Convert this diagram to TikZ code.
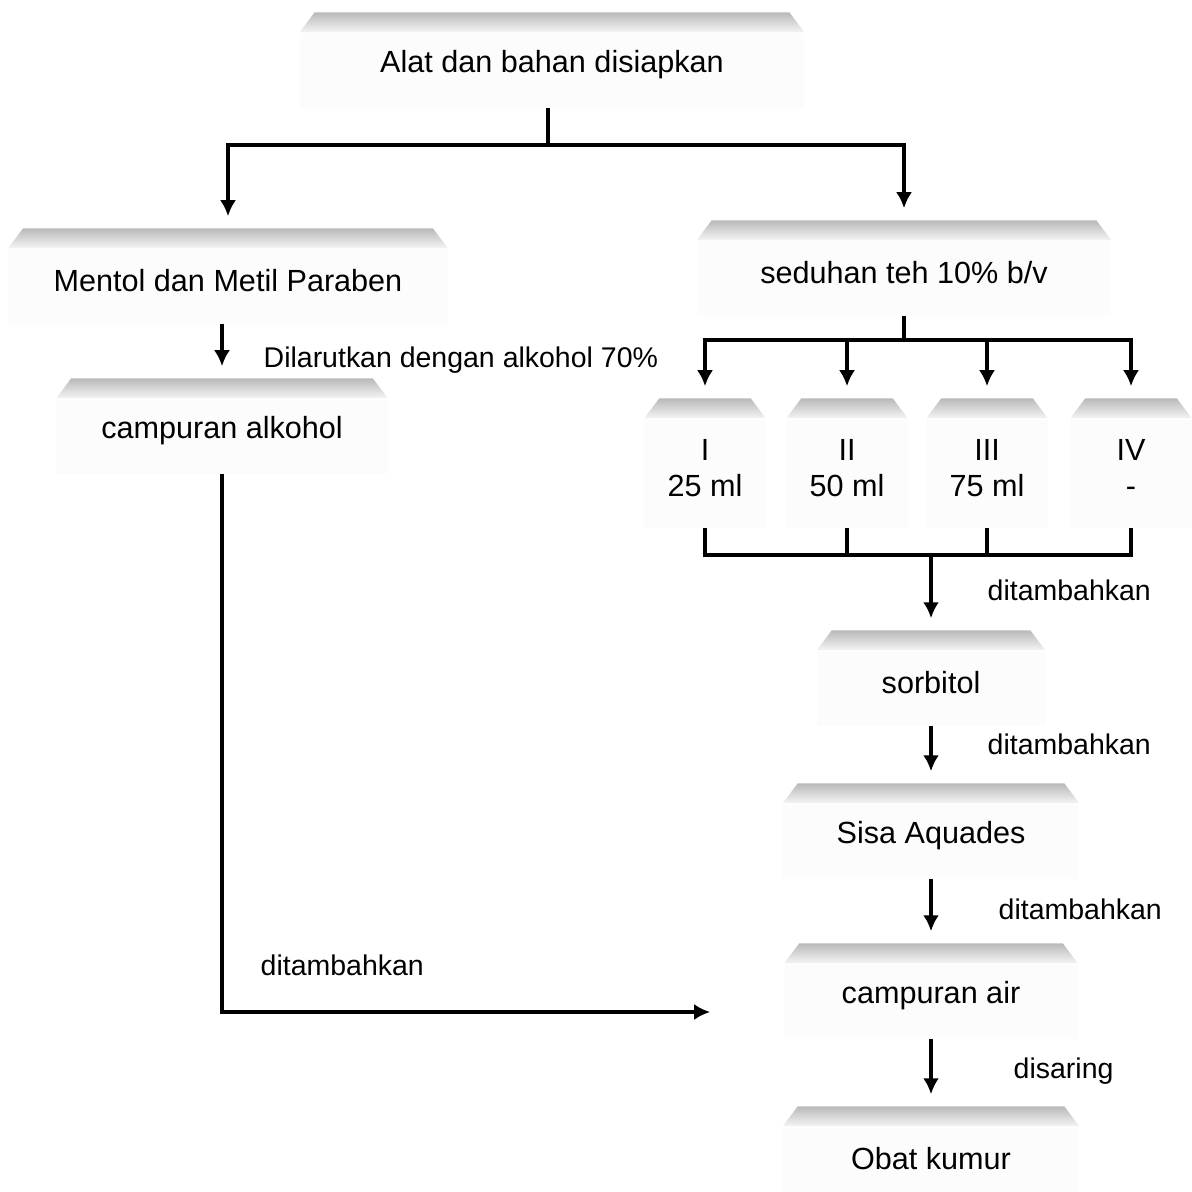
\documentclass[tikz,border=0pt]{standalone}
\usepackage{fontspec}
\setmainfont{Liberation Sans}
\usetikzlibrary{arrows.meta,backgrounds}
\begin{document}
\begin{tikzpicture}[x=0.01cm,y=-0.01cm,
	box/.style={minimum height=0.84cm, inner sep=0pt, align=center, font=\fontsize{8.7}{10.2}\selectfont},
	tube/.style={box, minimum width=1.2cm, minimum height=1.18cm},
	lbl/.style={anchor=west, inner sep=0pt, font=\fontsize{8.1}{10}\selectfont},
	link/.style={line width=1.1pt},
	flow/.style={link, -{Latex[length=1.6mm,width=1.6mm]}, shorten >=0.22cm}]
	\useasboundingbox (0,0) rectangle (1192,1192);
	% boxes
	\node[box, minimum width=5.03cm] (alat) at (552,65) {Alat dan bahan disiapkan};
	\node[box, minimum width=4.38cm] (mentol) at (228,281) {Mentol dan Metil Paraben};
	\node[box, minimum width=3.3cm] (calk) at (222,431) {campuran alkohol};
	\node[box, minimum width=4.13cm] (seduh) at (904,273) {seduhan teh 10\% b/v};
	\node[tube] (t1) at (705,468) {I\\25 ml};
	\node[tube] (t2) at (847,468) {II\\50 ml};
	\node[tube] (t3) at (987,468) {III\\75 ml};
	\node[tube] (t4) at (1131,468) {IV\\-};
	\node[box, minimum width=2.27cm] (sorb) at (931,683) {sorbitol};
	\node[box, minimum width=2.95cm] (aqua) at (931,836) {Sisa Aquades};
	\node[box, minimum width=2.92cm] (cair) at (931,996) {campuran air};
	\node[box, minimum width=2.95cm] (obat) at (931,1159) {Obat kumur};
	% shaded tops
	\begin{scope}[on background layer]
		\foreach \n in {alat,mentol,calk,seduh,t1,t2,t3,t4,sorb,aqua,cair,obat}{
			\fill[gray!2] ([yshift=-0.12cm]\n.north west) rectangle (\n.south east);
			\shade[top color=gray!55, bottom color=gray!8] ([xshift=0.15cm,yshift=0.1cm]\n.north west) -- ([xshift=-0.15cm,yshift=0.1cm]\n.north east) -- ([yshift=-0.1cm]\n.north east) -- ([yshift=-0.1cm]\n.north west) -- cycle;
		}
	\end{scope}
	% left branch
	\coordinate (split) at (548,145);
	\draw[link] (alat.south -| split) -- (split);
	\draw[flow] (split) -| (mentol.north);
	\draw[flow] (split) -| (seduh.north);
	\draw[flow] (mentol.south -| calk.north) -- (calk.north);
	\node[lbl] (larut) at (263,360) {Dilarutkan dengan alkohol 70\%};
	\draw[flow, shorten >=0.74cm] (calk.south) |- ([yshift=-0.16cm]cair.west);
	\node[lbl] (tam4) at (260,965) {ditambahkan};
	% right branch
	\coordinate (split2) at (904,340);
	\draw[link] (seduh.south) -- (split2);
	\foreach \t in {t1,t2,t3,t4}
		\draw[flow] (split2) -| (\t.north);
	\coordinate (join) at (931,555);
	\foreach \t in {t1,t2,t3,t4}
		\draw[link] (\t.south) |- (join);
	\draw[flow] (join) -- (sorb.north);
	\node[lbl] (tam1) at (987,590) {ditambahkan};
	\draw[flow] (sorb.south) -- (aqua.north);
	\node[lbl] (tam2) at (987,744) {ditambahkan};
	\draw[flow] (aqua.south) -- (cair.north);
	\node[lbl] (tam3) at (998,909) {ditambahkan};
	\draw[flow] (cair.south) -- (obat.north);
	\node[lbl] (saring) at (1013,1071) {disaring};
\end{tikzpicture}
\end{document}
